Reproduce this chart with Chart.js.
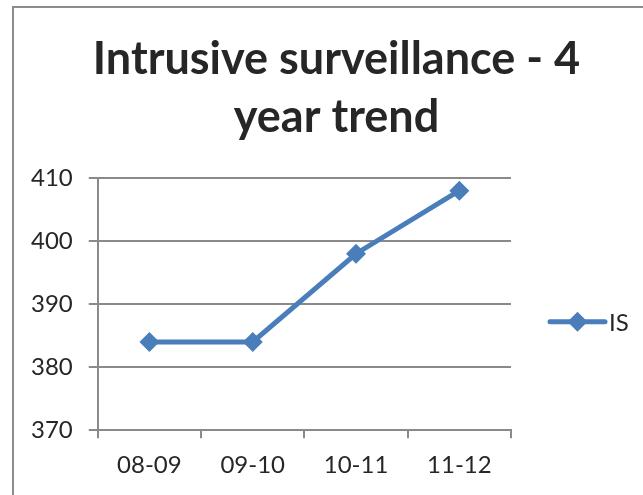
<!DOCTYPE html>
<html>
<head>
<meta charset="utf-8">
<script src="https://cdn.jsdelivr.net/npm/chart.js@4/dist/chart.umd.min.js"></script>
<style>
  html, body { margin: 0; padding: 0; overflow: hidden; background: #fff; width: 643px; height: 495px; }
  #frame { position: absolute; left: 12px; top: 6px; width: 700px; height: 600px; border-left: 2px solid #8c8c8c; border-top: 2px solid #8c8c8c; }
  #wrap { position: absolute; left: 14px; top: 8px; width: 644px; height: 520px; }
</style>
</head>
<body>
<div id="frame"></div>
<div id="wrap"><canvas id="c" width="644" height="520"></canvas></div>
<script>
const categories = ["08-09", "09-10", "10-11", "11-12"];
const seriesName = "IS";
const seriesValues = [384, 384, 398, 408];
const titleLines = ["Intrusive surveillance - 4", "year trend"];
const yMin = 370, yMax = 410, yStep = 10;

const BLUE = "#4a7ebb";
const GRID = "#8a8a8a";
const TEXT = "#262626";
const FONT = "Lato, 'Open Sans', sans-serif";

const sideLegend = {
  id: "sideLegend",
  afterDraw(chart) {
    const ctx = chart.ctx;
    const ca = chart.chartArea;
    const ds = chart.data.datasets[0];
    const x0 = ca.right + 39, x1 = ca.right + 94;
    const y = ca.top + (ca.bottom - ca.top) * 0.57;
    ctx.save();
    ctx.strokeStyle = ds.borderColor;
    ctx.lineWidth = ds.borderWidth;
    ctx.lineCap = "round";
    ctx.beginPath(); ctx.moveTo(x0, y); ctx.lineTo(x1, y); ctx.stroke();
    ctx.fillStyle = ds.pointBackgroundColor;
    ctx.strokeStyle = ds.pointBorderColor;
    Chart.helpers.drawPoint(ctx, { pointStyle: ds.pointStyle, radius: ds.pointRadius, borderWidth: 0, rotation: 0 }, (x0 + x1) / 2, y);
    ctx.fillStyle = TEXT;
    ctx.font = "24px " + FONT;
    ctx.textBaseline = "middle";
    ctx.textAlign = "left";
    ctx.fillText(ds.label, x1 + 4, y + 1);
    ctx.restore();
  }
};

new Chart(document.getElementById("c"), {
  type: "line",
  data: {
    labels: categories,
    datasets: [{
      label: seriesName,
      data: seriesValues,
      borderColor: BLUE,
      backgroundColor: BLUE,
      borderWidth: 5,
      pointStyle: "rectRot",
      pointRadius: 10,
      pointBackgroundColor: BLUE,
      pointBorderColor: BLUE,
      pointBorderWidth: 0,
      tension: 0
    }]
  },
  plugins: [sideLegend],
  options: {
    responsive: false,
    animation: false,
    layout: { padding: { left: 1, right: 0, top: 0, bottom: 35 } },
    plugins: {
      legend: { display: false },
      tooltip: { enabled: false },
      title: {
        display: true,
        text: titleLines,
        color: TEXT,
        font: { family: FONT, size: 45, weight: "bold", lineHeight: 1.29 },
        padding: { top: 22, bottom: 32 }
      }
    },
    scales: {
      x: {
        offset: true,
        grid: { display: true, offset: true, drawOnChartArea: false, drawTicks: true, tickLength: 8, color: GRID, lineWidth: 2 },
        border: { display: true, color: GRID, width: 2 },
        ticks: { color: TEXT, font: { family: FONT, size: 24 }, padding: 13, maxRotation: 0 }
      },
      y: {
        min: yMin, max: yMax,
        grid: { color: GRID, lineWidth: 2, tickLength: 9, drawTicks: true },
        border: { display: true, color: GRID, width: 2 },
        ticks: { stepSize: yStep, color: TEXT, font: { family: FONT, size: 24 }, padding: 16 }
      },
      legendSpace: {
        type: "linear",
        position: "right",
        display: true,
        grid: { display: false },
        border: { display: false },
        ticks: { display: false },
        afterFit(scale) { scale.width = 147; }
      }
    }
  }
});
</script>
</body>
</html>
